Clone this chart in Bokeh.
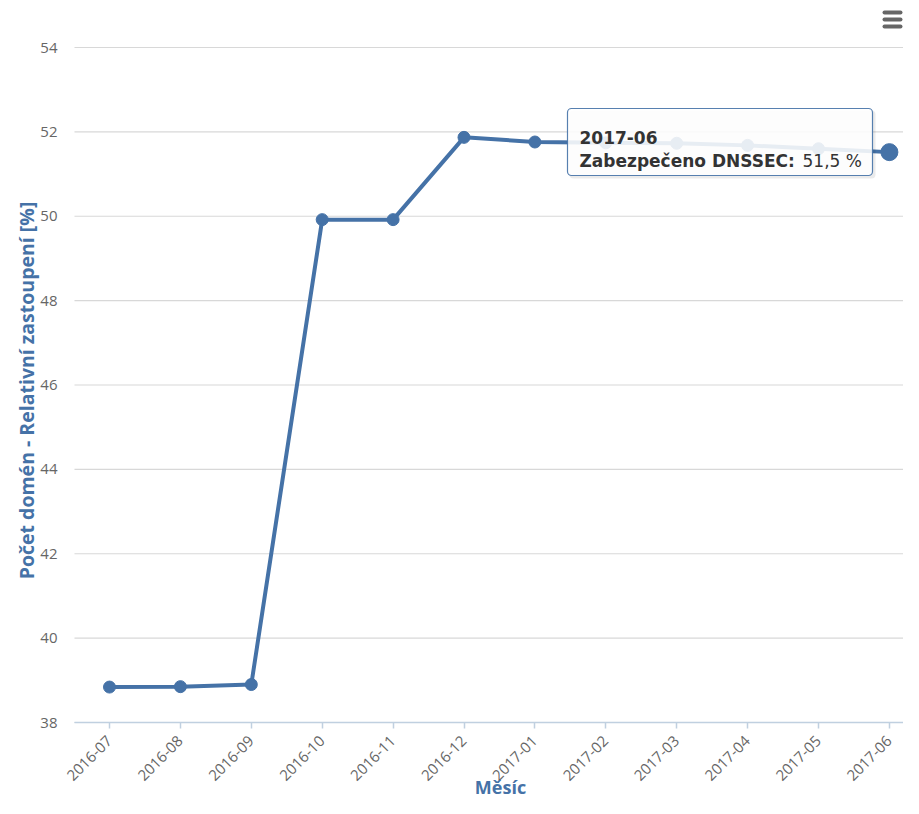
import math
from bokeh.plotting import figure
from bokeh.models import FixedTicker, Label, BoxAnnotation, ColumnDataSource, Range1d
from bokeh.embed import file_html
from bokeh.resources import INLINE

months = ["2016-07", "2016-08", "2016-09", "2016-10", "2016-11", "2016-12",
          "2017-01", "2017-02", "2017-03", "2017-04", "2017-05", "2017-06"]
values = [38.84, 38.85, 38.90, 49.92, 49.92, 51.87, 51.76, 51.74, 51.73, 51.68, 51.60, 51.52]
y_ticks = [38, 40, 42, 44, 46, 48, 50, 52, 54]

series_name = "Zabezpečeno DNSSEC"
x_title = "Měsíc"
y_title = "Počet domén - Relativní zastoupení [%]"
hover_index = 11

BLUE = "#4572A7"
GREY_TXT = "#666666"
W, H = 903, 798

# layout geometry (page pixels) -> data conversions
X_CAT0_PX, X_STEP_PX = 109.0, 70.9      # first category and spacing
PLOT_LEFT_PX = 74.0
Y_TOP_PX, Y_AXIS_PX = 47.0, 722.0       # value 54 and value 38
Y_MIN, Y_MAX = y_ticks[0], y_ticks[-1]
KY = (Y_AXIS_PX - Y_TOP_PX) / (Y_MAX - Y_MIN)


def dx(px):
    return (px - X_CAT0_PX) / X_STEP_PX


def dy(py):
    return Y_MAX - (py - Y_TOP_PX) / KY


x_left, x_right = dx(PLOT_LEFT_PX), dx(W)
idx = list(range(len(months)))
src = ColumnDataSource(dict(x=idx, y=values))

p = figure(width=W, height=H, output_backend="svg", toolbar_location=None,
           x_range=Range1d(dx(0), dx(W)), y_range=Range1d(dy(H), dy(0)))
p.min_border_left = 0
p.min_border_top = 0
p.min_border_bottom = 0
p.min_border_right = 0
p.outline_line_color = None
p.background_fill_color = "white"

# x axis sits on the lowest value
p.xaxis.fixed_location = Y_MIN
p.xaxis.bounds = (x_left, x_right)
p.xaxis.ticker = FixedTicker(ticks=idx)
p.xaxis.major_label_overrides = {i: m for i, m in enumerate(months)}
p.xaxis.major_label_orientation = math.pi / 4
p.xaxis.major_label_text_font = "Open Sans"
p.xaxis.major_label_text_font_size = "15px"
p.xaxis.major_label_text_color = GREY_TXT
p.xaxis.axis_line_color = "#C0D0E0"
p.xaxis.axis_line_width = 1.5
p.xaxis.major_tick_line_color = "#C0D0E0"
p.xaxis.major_tick_line_width = 1.5
p.xaxis.major_tick_out = 6
p.xaxis.major_tick_in = 0
p.xaxis.minor_tick_line_color = None
p.xaxis.major_label_standoff = 10

# y axis at the plot's left edge
p.yaxis.fixed_location = x_left
p.yaxis.ticker = FixedTicker(ticks=y_ticks)
p.yaxis.axis_line_color = None
p.yaxis.major_tick_line_color = None
p.yaxis.minor_tick_line_color = None
p.yaxis.major_label_text_font = "Open Sans"
p.yaxis.major_label_text_font_size = "15px"
p.yaxis.major_label_text_color = GREY_TXT
p.yaxis.major_label_standoff = 11

p.xgrid.grid_line_color = None
p.ygrid.grid_line_color = None
p.segment(x0=[x_left] * len(y_ticks), x1=[x_right] * len(y_ticks), y0=y_ticks, y1=y_ticks,
          line_color="#D8D8D8", line_width=1.2, level="underlay")

# axis titles
p.add_layout(Label(x=dx(26), y=dy(390), text=y_title, angle=math.pi / 2,
                   text_align="center", text_baseline="middle",
                   text_font="Open Sans", text_font_style="bold",
                   text_font_size="19.5px", text_color=BLUE))
p.add_layout(Label(x=dx(500), y=dy(786), text=x_title,
                   text_align="center", text_baseline="middle",
                   text_font="Open Sans", text_font_style="bold",
                   text_font_size="18px", text_color=BLUE))

# series
p.line("x", "y", source=src, line_color=BLUE, line_width=4)
p.scatter("x", "y", source=src, size=12, fill_color=BLUE, line_color=BLUE)
p.scatter([idx[hover_index]], [values[hover_index]], size=17, fill_color=BLUE, line_color=BLUE)

# tooltip
p.add_layout(BoxAnnotation(left=dx(569), right=dx(875), bottom=dy(178), top=dy(110),
                           fill_color="black", fill_alpha=0.08, line_color=None,
                           border_radius=4))
p.add_layout(BoxAnnotation(left=dx(567), right=dx(872), bottom=dy(175), top=dy(108),
                           fill_color="white", fill_alpha=0.88, line_color=BLUE,
                           line_width=1.2, line_alpha=0.9, border_radius=4))
p.add_layout(Label(x=dx(579), y=dy(137), text=months[hover_index],
                   text_font="DejaVu Sans", text_font_style="bold",
                   text_font_size="17px", text_color="#333333", text_baseline="alphabetic"))
p.add_layout(Label(x=dx(579), y=dy(160), text=series_name + ":",
                   text_font="DejaVu Sans", text_font_style="bold",
                   text_font_size="17px", text_color="#333333", text_baseline="alphabetic"))
p.add_layout(Label(x=dx(802), y=dy(160), text=f"{values[hover_index]:.1f} %".replace(".", ","),
                   text_font="DejaVu Sans", text_font_size="17px",
                   text_color="#333333", text_baseline="alphabetic"))

# menu icon (three bars)
for cy in (12, 19, 26):
    p.add_layout(BoxAnnotation(left=dx(882), right=dx(902), bottom=dy(cy + 2), top=dy(cy - 2),
                               fill_color="#666666", fill_alpha=1.0, line_color=None,
                               border_radius=2))

open("out.html", "w").write(file_html(p, INLINE))
